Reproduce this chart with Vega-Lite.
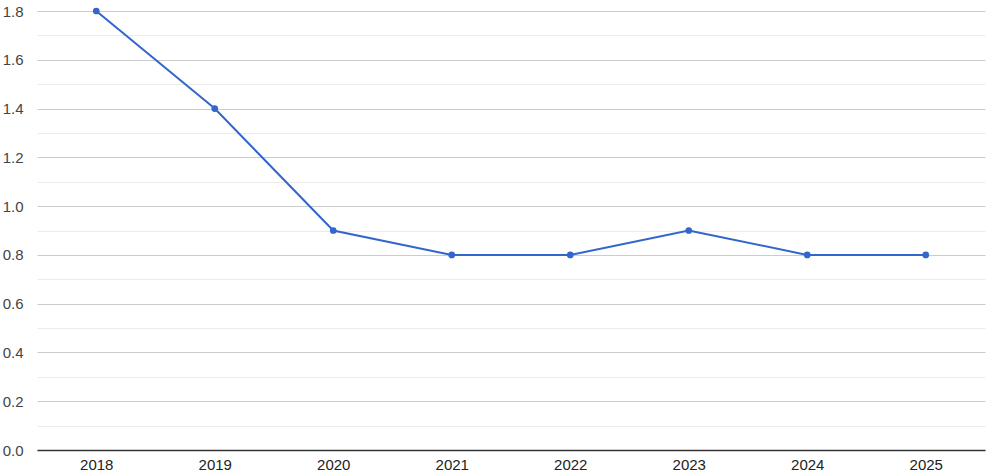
{
  "$schema": "https://vega.github.io/schema/vega-lite/v6.json",
  "width": 948,
  "height": 439,
  "autosize": {"type": "none"},
  "padding": {"left": 37, "top": 11, "right": 4, "bottom": 26},
  "background": "#ffffff",
  "config": {"view": {"stroke": null}, "font": "Arial"},
  "data": {"values": [
    {"year": "2018", "value": 1.8},
    {"year": "2019", "value": 1.4},
    {"year": "2020", "value": 0.9},
    {"year": "2021", "value": 0.8},
    {"year": "2022", "value": 0.8},
    {"year": "2023", "value": 0.9},
    {"year": "2024", "value": 0.8},
    {"year": "2025", "value": 0.8}
  ]},
  "mark": {"type": "line", "color": "#3366cc", "strokeWidth": 2, "point": {"filled": true, "size": 45, "color": "#3366cc", "opacity": 1}},
  "encoding": {
    "x": {"field": "year", "type": "ordinal", "title": null,
      "scale": {"type": "point", "padding": 0.5},
      "axis": {"labelAngle": 0, "ticks": false, "domainColor": "#333333", "domainWidth": 1.5, "labelColor": "#222222", "labelFontSize": 15, "labelFont": "Arial", "labelPadding": 7, "grid": false}},
    "y": {"field": "value", "type": "quantitative", "title": null,
      "scale": {"domain": [0, 1.8], "nice": false, "zero": true},
      "axis": {
        "values": [0, 0.1, 0.2, 0.3, 0.4, 0.5, 0.6, 0.7, 0.8, 0.9, 1.0, 1.1, 1.2, 1.3, 1.4, 1.5, 1.6, 1.7, 1.8],
        "labelExpr": "round(datum.value*10)%2==1 ? '' : format(datum.value, '.1f')",
        "ticks": false, "domain": false,
        "gridColor": {"condition": {"test": "round(datum.value*10)%2==1", "value": "#ebebeb"}, "value": "#cccccc"},
        "labelColor": "#444444", "labelFontSize": 15, "labelFont": "Arial", "labelPadding": 14
      }}
  }
}
